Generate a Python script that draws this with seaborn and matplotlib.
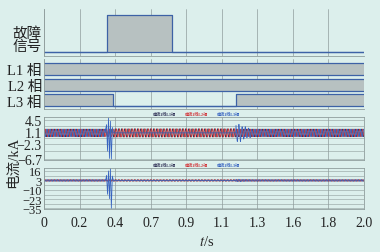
import numpy as np
import pandas as pd
import seaborn as sns
import matplotlib.pyplot as plt

sns.set_theme(style='white')
plt.rcParams['font.family'] = ['Liberation Serif', 'Noto Sans CJK SC']
plt.rcParams['mathtext.fontset'] = 'stix'
plt.rcParams['axes.unicode_minus'] = True

BG = '#dcefec'
FILL = '#b7c1c1'
BLUE_EDGE = '#3d62a6'
GRID = '#8f9d9c'
C_DARK = '#34365a'
C_RED = '#d2353a'
C_BLUE = '#3763c0'

# ---- step signals (edge times in s, state after edge) ----
fault_t = [0.0, 0.394, 0.80, 2.0]
fault_on = [0, 1, 0, 0]
l1_t = [0.0, 2.0]
l1_on = [1, 1]
l2_t = [0.0, 2.0]
l2_on = [1, 1]
l3_t = [0.0, 0.431, 1.20, 2.0]
l3_on = [1, 0, 1, 1]

xtick_labels = ['0', '0.2', '0.4', '0.7', '0.9', '1.1', '1.3', '1.6', '1.8', '2.0']
i1_ticks = [4.5, 1.1, -2.3, -6.7]
i2_ticks = [16, 3, -10, -23, -35]

# ---- current waveforms ----
period = 0.02
cycle_shape = [0.0, 0.5, 0.87, 1.0, 0.87, 0.5, 0.0, -0.5, -0.87, -1.0, -0.87, -0.5]
seg_t = [0.0, 0.385, 0.435, 1.20, 1.23, 1.26, 1.29]
# panel 1 amplitude per segment
i1_offset = 0.8
i1_amp_dark = [1.1, 1.1, 1.2, 1.1, 1.1, 1.1, 1.1]
i1_amp_red = [1.1, 1.1, 1.2, 1.1, 1.1, 1.1, 1.1]
i1_amp_blue = [1.1, 0.0, 0.0, 2.5, 1.8, 1.4, 1.1]
# panel 2 amplitude per segment
i2_offset = 3.0
i2_amp_dark = [1.0, 1.0, 1.0, 1.0, 1.0, 1.0, 1.0]
i2_amp_red = [1.0, 1.0, 1.0, 1.0, 1.0, 1.0, 1.0]
i2_amp_blue = [1.0, 0.0, 0.0, 1.6, 1.3, 1.1, 1.0]
# fault transient on L3 (blue)
tr_t = [0.385, 0.391, 0.397, 0.403, 0.409, 0.415, 0.421, 0.427, 0.433]
tr_i1 = [1.8, 3.2, -4.5, 5.2, -6.6, 4.2, -6.8, 2.4, 0.8]
tr_i2 = [3.0, 10.0, -16.0, 16.0, -22.0, 20.0, -35.0, 9.0, 3.0]

n_cycles = 100
dt = period / len(cycle_shape)
t = np.arange(n_cycles * len(cycle_shape) + 1) * dt
shape_a = np.tile(cycle_shape, n_cycles + 1)[:len(t)]
shape_b = np.tile(np.roll(cycle_shape, 4), n_cycles + 1)[:len(t)]
shape_c = np.tile(np.roll(cycle_shape, 8), n_cycles + 1)[:len(t)]
seg_idx = np.searchsorted(seg_t, t, side='right') - 1


def phase(shape, amps, offset):
    return offset + shape * np.asarray(amps)[seg_idx]


def with_transient(y, tt, vv):
    keep = (t < tt[0]) | (t > tt[-1])
    df = pd.DataFrame({'t': np.concatenate([t[keep], tt]),
                       'v': np.concatenate([y[keep], vv])})
    return df.sort_values('t')


fig = plt.figure(figsize=(3.8, 2.53), dpi=100, facecolor=BG)


def box(top_px, bot_px):
    return [44 / 380, 1 - bot_px / 253, 320 / 380, (bot_px - top_px) / 253]


ax_f = fig.add_axes(box(10, 57))
ax_p = fig.add_axes(box(60, 110))
ax_1 = fig.add_axes(box(118, 160.5))
ax_2 = fig.add_axes(box(169, 210))
axes = [ax_f, ax_p, ax_1, ax_2]

xt = np.linspace(0, 2, 10)
for ax in axes:
    ax.set_facecolor(BG)
    ax.set_xlim(0, 2.0)
    ax.set_xticks(xt)
    ax.xaxis.grid(True, color=GRID, lw=0.5)
    ax.tick_params(length=0, labelsize=10, pad=1.5, colors='#222222')
    for s in ax.spines.values():
        s.set_color(GRID)
        s.set_linewidth(0.6)
    ax.set_axisbelow(True)
for ax in axes[:3]:
    ax.set_xticklabels([])


def draw_step(ax, tt, on, base, top):
    lv = [base + (top - base) * s for s in on]
    ax.fill_between(tt, base, lv, step='post', color=FILL, lw=0)
    ax.step(tt, lv, where='post', color=BLUE_EDGE, lw=0.9)
    ax.plot([0, 2], [base, base], color=BLUE_EDGE, lw=0.9)


# fault signal
ax_f.set_ylim(0, 47)
draw_step(ax_f, fault_t, fault_on, 4, 41)
ax_f.set_yticks([18])
ax_f.set_yticklabels(['故障\n信号'], linespacing=0.95, fontsize=10.5)
ax_f.spines['top'].set_visible(False)
ax_f.spines['right'].set_visible(False)

# breaker phases
ax_p.set_ylim(0, 50)
draw_step(ax_p, l1_t, l1_on, 34, 46)
draw_step(ax_p, l2_t, l2_on, 18, 30)
draw_step(ax_p, l3_t, l3_on, 3, 15)
ax_p.set_yticks([40, 24, 8.5])
ax_p.set_yticklabels(['L1 相', 'L2 相', 'L3 相'], fontsize=10.5)
ax_p.spines['top'].set_visible(False)
ax_p.spines['right'].set_visible(False)


def current_panel(ax, amps, offset, tr_v, ylim, ticks, minor, fs):
    dark = pd.DataFrame({'t': t, 'v': phase(shape_a, amps[0], offset)})
    red = pd.DataFrame({'t': t, 'v': phase(shape_b, amps[1], offset)})
    blue = with_transient(phase(shape_c, amps[2], offset), tr_t, tr_v)
    for df, c in [(dark, C_DARK), (red, C_RED), (blue, C_BLUE)]:
        sns.lineplot(data=df, x='t', y='v', ax=ax, color=c, lw=0.55,
                     estimator=None, sort=False)
    ax.set_ylim(*ylim)
    ax.set_yticks(ticks)
    ax.set_yticklabels([f'{v:g}'.replace('-', '\u2212') for v in ticks], fontsize=fs)
    ax.set_yticks(minor, minor=True)
    ax.tick_params(axis='y', which='minor', length=0)
    ax.yaxis.grid(True, which='both', color=GRID, lw=0.4)
    ax.set_xlabel('')
    ax.set_ylabel('')
    labels = [('电流1线L1相', C_DARK), ('电流1线L2相', C_RED), ('电流1线L3相', C_BLUE)]
    for k, (s, c) in enumerate(labels):
        ax.text(0.375 + k * 0.1, 1.03, s, transform=ax.transAxes, fontsize=3,
                color=c, ha='center', va='bottom', fontweight='bold')


current_panel(ax_1, [i1_amp_dark, i1_amp_red, i1_amp_blue], i1_offset, tr_i1,
              (-6.9, 5.4), i1_ticks, [2.8, -0.6, -4.5], 10)
current_panel(ax_2, [i2_amp_dark, i2_amp_red, i2_amp_blue], i2_offset, tr_i2,
              (-36, 20), i2_ticks, [9.5, -3.5, -16.5, -29], 9)

ax_2.set_xticklabels(xtick_labels)
ax_2.tick_params(axis='x', pad=5)

fig.text(0.035, 1 - 162 / 253, '电流/kA', rotation=90, ha='center', va='center',
         fontsize=10.5)
fig.text(207 / 380, 1 - 242 / 253, '$t$/s', ha='center', va='center', fontsize=10.5)

fig.savefig('out.png', dpi=100, facecolor=BG)
